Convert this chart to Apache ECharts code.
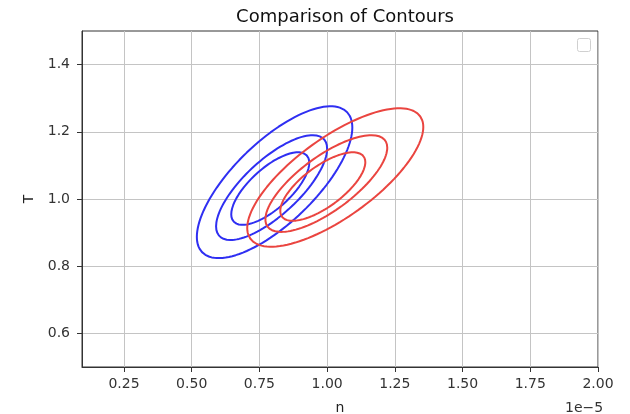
<!DOCTYPE html>
<html>
<head>
<meta charset="utf-8">
<script src="https://cdn.jsdelivr.net/npm/echarts@6/dist/echarts.min.js"></script>
<style>
  html, body { margin: 0; padding: 0; background: #fff; }
  #chart { width: 630px; height: 414px; }
</style>
</head>
<body>
<div id="chart"></div>
<script>
// ticks (n is in units of 1e-5)
var xTicks = [0.25, 0.5, 0.75, 1.0, 1.25, 1.5, 1.75, 2.0];
var yTicks = [0.6, 0.8, 1.0, 1.2, 1.4];

// contour rings:
// [centre n, centre T, half width (n), half height (T), tilt]
var blueRings = [
	[0.806, 1.050, 0.287, 0.226, 0.72],
	[0.795, 1.034, 0.205, 0.156, 0.74],
	[0.790, 1.031, 0.144, 0.108, 0.71]
];
var redRings = [
	[1.030, 1.064, 0.325, 0.206, 0.73],
	[0.997, 1.046, 0.225, 0.144, 0.74],
	[0.984, 1.037, 0.157, 0.102, 0.71]
];

function ring(r) {
	var pts = [];
	var s = Math.sqrt(1 - r[4] * r[4]);
	for (var i = 0; i <= 120; i++) {
		var t = i / 120 * Math.PI * 2;
		pts.push([r[0] + r[2] * Math.cos(t), r[1] + r[3] * (r[4] * Math.cos(t) + s * Math.sin(t))]);
	}
	return pts;
}

var font = 'DejaVu Sans';
var series = [];
blueRings.forEach(function(r) {
	series.push({ type: 'line', data: ring(r), showSymbol: false, silent: true,
		lineStyle: { color: '#2f2ff2', width: 2 } });
});
redRings.forEach(function(r) {
	series.push({ type: 'line', data: ring(r), showSymbol: false, silent: true,
		lineStyle: { color: '#ea4540', width: 2 } });
});

var chart = echarts.init(document.getElementById('chart'));
chart.setOption({
	animation: false,
	title: {
		text: 'Comparison of Contours',
		left: 340, top: 3, textAlign: 'center',
		textStyle: { fontFamily: font, fontSize: 18, fontWeight: 'normal', color: '#111' }
	},
	grid: { left: 82, right: 32, top: 31, bottom: 47, outerBoundsMode: 'none',
		show: true, borderColor: '#333', borderWidth: 1 },
	xAxis: {
		type: 'value', min: 0.095, max: 2.0,
		name: 'n', nameLocation: 'middle', nameGap: 34,
		nameTextStyle: { fontFamily: font, fontSize: 14, color: '#222' },
		axisLine: { show: true, lineStyle: { color: '#333' } },
		axisTick: { show: true, customValues: xTicks, length: 5, lineStyle: { color: '#333' } },
		axisLabel: { customValues: xTicks, fontFamily: font, fontSize: 14, color: '#333', margin: 10,
			formatter: function(v) { return v.toFixed(2); } },
		splitLine: { show: true, lineStyle: { color: '#c4c4c4', width: 1 } }
	},
	yAxis: {
		type: 'value', min: 0.5, max: 1.5,
		name: 'T', nameLocation: 'middle', nameGap: 46, nameRotate: 90,
		nameTextStyle: { fontFamily: font, fontSize: 14, color: '#222' },
		axisLine: { show: true, lineStyle: { color: '#333' } },
		axisTick: { show: true, customValues: yTicks, length: 5, lineStyle: { color: '#333' } },
		axisLabel: { customValues: yTicks, fontFamily: font, fontSize: 14, color: '#333', margin: 12,
			formatter: function(v) { return v.toFixed(1); } },
		splitLine: { show: true, lineStyle: { color: '#c4c4c4', width: 1 } }
	},
	graphic: [
		{ type: 'rect', left: 577, top: 38, shape: { width: 13, height: 13, r: 2 },
			style: { fill: '#fff', stroke: '#d0d0d0', lineWidth: 1 } },
		{ type: 'text', left: 565, top: 401,
			style: { text: '1e\u22125', font: '14px "DejaVu Sans"', fill: '#333' } }
	],
	series: series
});
</script>
</body>
</html>
